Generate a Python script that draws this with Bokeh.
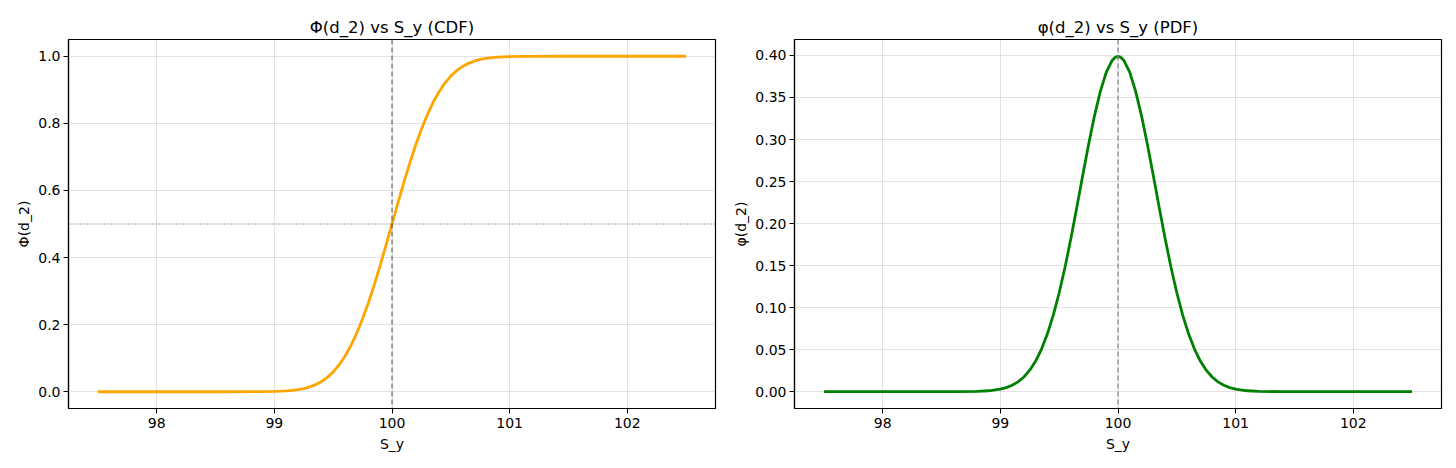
from bokeh.plotting import figure
from bokeh.layouts import row
from bokeh.models import Span, FixedTicker, PrintfTickFormatter, Range1d
from bokeh.embed import file_html
from bokeh.resources import INLINE

# --- data ---
s_y = [97.5, 98.0, 98.5, 98.6, 98.8, 98.9, 99.0, 99.05, 99.1, 99.15, 99.2, 99.25, 99.3,
       99.35, 99.4, 99.45, 99.5, 99.55, 99.6, 99.65, 99.7, 99.75, 99.8, 99.85, 99.9,
       99.95, 99.975, 100.0, 100.025, 100.05, 100.1, 100.15, 100.2, 100.25, 100.3, 100.35,
       100.4, 100.45, 100.5, 100.55, 100.6, 100.65, 100.7, 100.75, 100.8, 100.85, 100.9,
       100.95, 101.0, 101.1, 101.2, 101.4, 101.5, 102.0, 102.5]

cdf_vals = [0.0, 0.0, 0.0, 0.0, 0.0001, 0.0003, 0.0009, 0.0015, 0.0025, 0.0040, 0.0062,
            0.0095, 0.0144, 0.0211, 0.0304, 0.0428, 0.0591, 0.0798, 0.1056, 0.1370, 0.1743,
            0.2174, 0.2660, 0.3196, 0.3773, 0.4380, 0.4689, 0.5000, 0.5311, 0.5620, 0.6227,
            0.6804, 0.7340, 0.7826, 0.8257, 0.8630, 0.8944, 0.9202, 0.9409, 0.9572, 0.9696,
            0.9789, 0.9856, 0.9905, 0.9938, 0.9960, 0.9975, 0.9985, 0.9991, 0.9997, 0.9999,
            1.0, 1.0, 1.0, 1.0]

pdf_vals = [0.0, 0.0, 0.0, 0.0, 0.0004, 0.0011, 0.0030, 0.0049, 0.0076, 0.0117, 0.0175,
            0.0256, 0.0365, 0.0507, 0.0688, 0.0911, 0.1177, 0.1484, 0.1826, 0.2194, 0.2571,
            0.2940, 0.3282, 0.3573, 0.3799, 0.3941, 0.3977, 0.3989, 0.3977, 0.3941, 0.3799,
            0.3573, 0.3282, 0.2940, 0.2571, 0.2194, 0.1826, 0.1484, 0.1177, 0.0911, 0.0688,
            0.0507, 0.0365, 0.0256, 0.0175, 0.0117, 0.0076, 0.0049, 0.0030, 0.0011, 0.0004,
            0.0, 0.0, 0.0, 0.0]

x_ticks = [98, 99, 100, 101, 102]
cdf_ticks = [0.0, 0.2, 0.4, 0.6, 0.8, 1.0]
pdf_ticks = [0.0, 0.05, 0.10, 0.15, 0.20, 0.25, 0.30, 0.35, 0.40]
strike = 100.0

FONT = "DejaVu Sans"


def style(p, yticks, yfmt, ylabel, title):
    p.title.text = title
    p.title.align = "center"
    p.title.text_font = FONT
    p.title.text_font_size = "16.5px"
    p.title.text_font_style = "normal"
    p.title.text_color = "black"
    p.title.standoff = 6
    p.outline_line_color = "black"
    p.outline_line_width = 1.2
    p.outline_line_alpha = 1
    p.background_fill_color = "white"
    p.border_fill_color = "white"
    for ax in (p.xaxis[0], p.yaxis[0]):
        ax.axis_line_color = "black"
        ax.axis_line_width = 1.2
        ax.major_tick_line_color = "black"
        ax.major_tick_out = 5
        ax.major_tick_in = 0
        ax.minor_tick_line_color = None
        ax.major_label_text_font = FONT
        ax.major_label_text_font_size = "14px"
        ax.major_label_text_color = "black"
        ax.axis_label_text_font = FONT
        ax.axis_label_text_font_size = "14px"
        ax.axis_label_text_font_style = "normal"
        ax.axis_label_text_color = "black"
    p.xaxis.major_label_standoff = 4
    p.xaxis.axis_label_standoff = 5
    p.yaxis.major_label_standoff = 3
    p.yaxis.axis_label_standoff = 3
    p.xaxis.ticker = FixedTicker(ticks=x_ticks)
    p.yaxis.ticker = FixedTicker(ticks=yticks)
    p.yaxis.formatter = PrintfTickFormatter(format=yfmt)
    p.xaxis.axis_label = "S_y"
    p.yaxis.axis_label = ylabel
    p.grid.grid_line_color = "#b0b0b0"
    p.grid.grid_line_alpha = 0.35
    p.grid.grid_line_width = 1


p1 = figure(frame_width=647, frame_height=369, output_backend="svg", toolbar_location=None,
            x_range=Range1d(97.25, 102.75), y_range=Range1d(-0.05, 1.05),
            min_border_left=68, min_border_right=15, min_border_top=39, min_border_bottom=58)
style(p1, cdf_ticks, "%.1f", "Φ(d_2)", "Φ(d_2) vs S_y (CDF)")
p1.add_layout(Span(location=strike, dimension="height", line_color="#3a3a3a",
                   line_dash="5 3", line_width=1, line_alpha=0.9))
p1.add_layout(Span(location=0.5, dimension="width", line_color="#3a3a3a",
                   line_dash="1 2", line_width=1, line_alpha=0.9))
p1.line(s_y, cdf_vals, line_color="#FFA500", line_width=2.8)

p2 = figure(frame_width=647, frame_height=369, output_backend="svg", toolbar_location=None,
            x_range=Range1d(97.25, 102.75), y_range=Range1d(-0.02, 0.419),
            min_border_left=63, min_border_right=14, min_border_top=39, min_border_bottom=58)
style(p2, pdf_ticks, "%.2f", "φ(d_2)", "φ(d_2) vs S_y (PDF)")
p2.add_layout(Span(location=strike, dimension="height", line_color="#808080",
                   line_dash="5 3", line_width=1.2))
p2.line(s_y, pdf_vals, line_color="#008000", line_width=2.8)

layout = row(p1, p2)
open("out.html", "w").write(file_html(layout, INLINE))
